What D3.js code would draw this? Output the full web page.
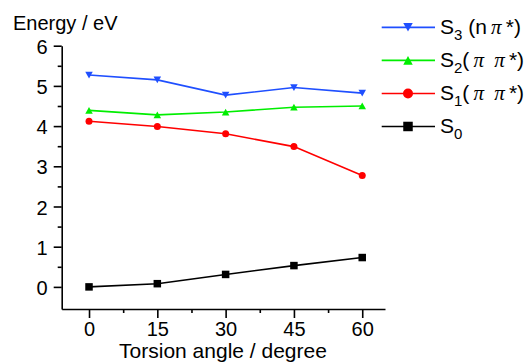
<!DOCTYPE html>
<html><head><meta charset="utf-8">
<script src="https://cdn.jsdelivr.net/npm/d3@7"></script>
<style>
html,body{margin:0;padding:0;background:#fff;}
text{font-family:"Liberation Sans",Arial,sans-serif;fill:#000;}
</style></head>
<body>
<svg id="c" width="530" height="363"></svg>
<script>
const angles = [0, 15, 30, 45, 60];
const s3 = [5.27, 5.15, 4.77, 4.96, 4.82];
const s2 = [4.39, 4.28, 4.35, 4.47, 4.50];
const s1 = [4.12, 3.99, 3.81, 3.49, 2.77];
const s0 = [0.00, 0.08, 0.31, 0.53, 0.73];
const xTicks = [0, 15, 30, 45, 60];
const xMinor = [7.5, 22.5, 37.5, 52.5];
const yTicks = [0, 1, 2, 3, 4, 5, 6];
const yMinor = [0.5, 1.5, 2.5, 3.5, 4.5, 5.5];
const seriesNames = ["S3", "S2", "S1", "S0"];

const series = [
  {key:"S3", vals:s3, color:"#1f4fff", shape:"tri-down", label:[["S",""],["3","sub"],[" (n\u2009",""],["π","pi"],["\u2009*)",""]]},
  {key:"S2", vals:s2, color:"#00ee00", shape:"tri-up", label:[["S",""],["2","sub"],["(\u2009",""],["π","pi"],["\u2009 ",""],["π","pi"],["\u2009*)",""]]},
  {key:"S1", vals:s1, color:"#ff0000", shape:"circle", label:[["S",""],["1","sub"],["(\u2009",""],["π","pi"],["\u2009 ",""],["π","pi"],["\u2009*)",""]]},
  {key:"S0", vals:s0, color:"#000000", shape:"square", label:[["S",""],["0","sub"]]}
];

const svg = d3.select("#c");
const x = d3.scaleLinear().domain([-6, 65]).range([61.7, 385]);
const y = d3.scaleLinear().domain([-0.55, 6]).range([309, 45.7]);

// axes
const gx = svg.append("g").attr("transform", `translate(0,${y(-0.55)})`);
gx.call(d3.axisBottom(x).tickValues(xTicks).tickSize(9).tickPadding(4).tickSizeOuter(0));
gx.append("g").call(d3.axisBottom(x).tickValues(xMinor).tickSize(4).tickFormat("")).select(".domain").remove();
const gy = svg.append("g").attr("transform", `translate(${x(-6)},0)`);
gy.call(d3.axisLeft(y).tickValues(yTicks).tickSize(8).tickPadding(6).tickFormat(d3.format("d")).tickSizeOuter(0));
gy.append("g").call(d3.axisLeft(y).tickValues(yMinor).tickSize(4).tickFormat("")).select(".domain").remove();
svg.selectAll(".domain, .tick line").attr("stroke","#000").attr("stroke-width",1.6);
svg.selectAll(".tick text").attr("font-size",20).attr("font-family","Liberation Sans, Arial, sans-serif");
gy.selectAll(".tick text").attr("dy","0.38em");

svg.append("text").attr("x",13).attr("y",29.5).attr("font-size",20).text("Energy / eV");
svg.append("text").attr("x",223).attr("y",358).attr("font-size",21).attr("text-anchor","middle").text("Torsion angle / degree");

function marker(g, shape, cx, cy, s, color){
  if(shape==="circle"){
    g.append("circle").attr("cx",cx).attr("cy",cy).attr("r",s/2).attr("fill",color);
  } else if(shape==="square"){
    g.append("rect").attr("x",cx-s/2).attr("y",cy-s/2).attr("width",s).attr("height",s).attr("fill",color);
  } else if(shape==="tri-down"){
    const h=s*0.9;
    g.append("path").attr("d",`M${cx-s/2},${cy-h/2}L${cx+s/2},${cy-h/2}L${cx},${cy+h/2}Z`).attr("fill",color);
  } else {
    const h=s*0.9;
    g.append("path").attr("d",`M${cx-s/2},${cy+h/2}L${cx+s/2},${cy+h/2}L${cx},${cy-h/2}Z`).attr("fill",color);
  }
}

const line = d3.line().x((d,i)=>x(angles[i])).y(d=>y(d));
series.forEach(s=>{
  const g = svg.append("g");
  g.append("path").attr("d", line(s.vals)).attr("fill","none").attr("stroke",s.color).attr("stroke-width",1.6);
  s.vals.forEach((v,i)=> marker(g, s.shape, x(angles[i]), y(v), s.shape==="circle"?7:7.5, s.color));
});

// legend
const legY = d3.scaleBand().domain(seriesNames).range([10.8, 143]).paddingInner(0);
series.forEach(s=>{
  const cy = legY(s.key)+legY.bandwidth()/2;
  const g = svg.append("g");
  g.append("line").attr("x1",381.7).attr("x2",435).attr("y1",cy).attr("y2",cy).attr("stroke",s.color).attr("stroke-width",1.6);
  marker(g, s.shape, 408, cy, s.shape==="circle"?10:9.5, s.color);
  const t = g.append("text").attr("x",440).attr("y",cy+7).attr("font-size",21);
  let prevSub = false;
  s.label.forEach(([txt,type])=>{
    const ts = t.append("tspan").text(txt);
    if(type==="sub"){ ts.attr("font-size",15).attr("dy",6); prevSub = true; }
    else {
      if(type==="pi") ts.attr("font-family","Liberation Serif, serif").attr("font-style","italic");
      if(prevSub){ ts.attr("dy",-6); prevSub = false; }
    }
  });
});
</script>
</body></html>
